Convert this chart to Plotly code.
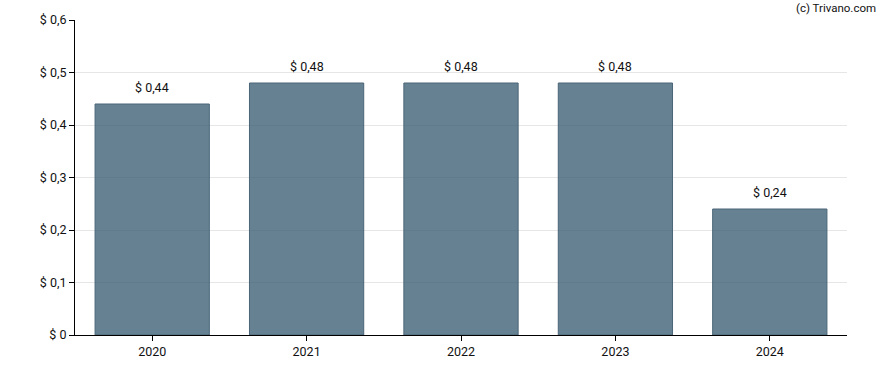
import plotly.graph_objects as go

years = ["2020", "2021", "2022", "2023", "2024"]
dividends = [0.44, 0.48, 0.48, 0.48, 0.24]
labels = ["$ 0,44", "$ 0,48", "$ 0,48", "$ 0,48", "$ 0,24"]
y_ticks = [0, 0.1, 0.2, 0.3, 0.4, 0.5, 0.6]
y_tick_text = ["$ 0", "$ 0,1", "$ 0,2", "$ 0,3", "$ 0,4", "$ 0,5", "$ 0,6"]

fig = go.Figure()
fig.add_trace(go.Bar(
    x=years, y=dividends,
    marker=dict(color="rgba(51,88,109,0.75)", line=dict(color="#4a6577", width=1)),
    hoverinfo="skip",
))
for i, (y, t) in enumerate(zip(dividends, labels)):
    fig.add_annotation(x=i, y=y, text=t, showarrow=False, yshift=17,
                       font=dict(size=12.5, color="#111"))
fig.add_annotation(xref="paper", yref="paper", x=1.0 + 31/772, y=1 + 12/315,
                   xanchor="right", yanchor="middle", text="(c) Trivano.com",
                   showarrow=False, font=dict(size=11.5, color="#111"))

fig.update_layout(
    width=888, height=370,
    margin=dict(l=75, r=41, t=20, b=35, autoexpand=False),
    plot_bgcolor="white", paper_bgcolor="white",
    bargap=0.26,
    showlegend=False,
    font=dict(family="Roboto, Arial, sans-serif", size=12, color="#111"),
)
fig.update_xaxes(type="category", categoryorder="array", categoryarray=years,
                 range=[-0.5, len(years) - 0.5], automargin=False,
                 showline=True, linecolor="black", linewidth=1,
                 ticks="outside", ticklen=5, tickcolor="black",
                 showgrid=False, tickfont=dict(size=12.5))
fig.update_yaxes(range=[0, 0.6], tickvals=y_ticks, ticktext=y_tick_text,
                 automargin=False,
                 showline=True, linecolor="black", linewidth=1,
                 ticks="outside", ticklen=5, tickcolor="black",
                 showgrid=True, gridcolor="#e6e6e6", zeroline=False,
                 tickfont=dict(size=12.5))

fig.write_html("out.html", config={"displayModeBar": False},
               post_script="document.body.style.margin='0';document.body.style.padding='0';")
